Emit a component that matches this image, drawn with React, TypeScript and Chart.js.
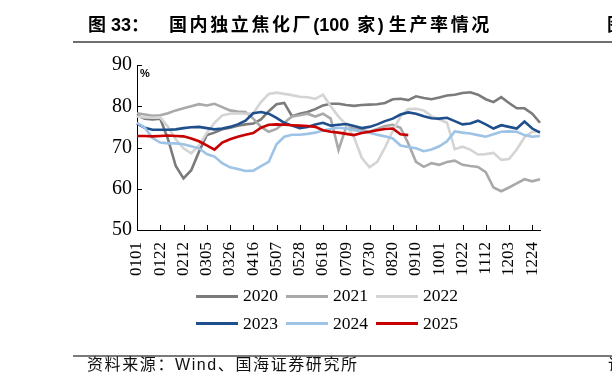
import React, { useEffect, useRef } from 'react';
import { Chart, registerables } from 'chart.js';

Chart.register(...registerables);

const dates = [
  '0101','0108','0115','0122','0129','0205','0212','0219','0226','0305','0312','0319','0326','0402','0409','0416','0423','0430',
  '0507','0514','0521','0528','0604','0611','0618','0625','0702','0709','0716','0723','0730','0806','0813','0820','0827','0903',
  '0910','0917','0924','1001','1008','1015','1022','1029','1105','1112','1119','1126','1203','1210','1217','1224','1231',
];

const tickLabels = ['0101','0122','0212','0305','0326','0416','0507','0528','0618','0709','0730','0820','0910','1001','1022','1112','1203','1224'];

const yTicks = [50, 60, 70, 80, 90];

const s2020 = [
  77.8,77.0,76.8,77.0,72.0,65.5,62.5,64.5,69.0,73.0,73.6,74.4,74.8,75.3,75.6,75.8,76.8,78.8,
  80.5,80.8,77.6,78.2,78.6,79.3,80.2,80.6,80.6,80.3,80.1,80.3,80.4,80.5,80.8,81.7,81.8,81.5,
  82.4,82.0,81.7,82.1,82.6,82.8,83.2,83.4,82.8,81.7,81.0,82.2,80.8,79.5,79.5,78.2,76.0,
];
const s2021 = [
  78.3,78.0,77.7,77.8,78.3,79.0,79.5,80.0,80.5,80.2,80.6,79.8,79.0,78.7,78.6,77.0,75.0,73.8,
  74.5,76.0,77.5,77.8,78.2,77.5,78.2,77.0,69.4,75.0,74.6,74.3,73.8,74.5,75.2,75.5,74.8,71.0,
  66.5,65.3,66.2,65.8,66.5,66.8,65.8,65.5,65.3,64.0,60.3,59.4,60.3,61.3,62.3,61.8,62.3,
];
const s2022 = [
  77.5,77.3,77.2,77.3,75.0,72.0,69.8,68.6,70.5,73.5,76.0,77.8,78.2,78.3,78.2,78.3,81.0,83.0,
  83.3,83.0,82.7,82.3,82.2,81.8,82.8,80.0,77.5,75.5,72.5,67.5,65.2,66.5,70.0,74.0,77.5,79.3,
  79.4,79.0,77.6,76.8,76.0,69.6,70.2,69.5,68.3,68.4,68.7,67.0,67.2,69.5,72.5,73.8,74.0,
];
const s2023 = [
  75.8,74.8,74.3,74.3,74.3,74.4,74.7,74.9,75.0,74.7,74.4,74.6,75.0,75.6,76.5,78.3,78.6,78.2,
  77.2,76.0,75.3,74.7,75.0,75.6,76.0,75.3,75.5,75.7,75.2,74.7,75.0,75.6,76.4,77.0,78.0,78.5,
  78.2,77.6,77.1,77.0,77.2,76.4,75.6,75.8,76.5,75.6,74.6,75.4,75.0,74.6,76.3,74.6,73.6,
];
const s2024 = [
  76.0,74.8,72.3,71.2,71.0,71.0,70.8,70.3,69.8,68.4,67.8,66.2,65.2,64.8,64.3,64.4,65.5,66.5,
  70.8,72.6,73.1,73.1,73.3,73.6,74.1,74.5,74.8,74.6,74.2,73.9,73.6,73.1,72.7,72.2,70.5,70.1,
  69.8,69.1,69.5,70.3,71.5,73.9,73.6,73.4,73.0,72.6,73.2,73.8,73.9,73.8,73.0,72.6,72.8,
];
const s2025 = [
  72.8,72.8,72.7,72.8,72.9,72.8,72.7,72.2,71.5,70.5,69.5,71.2,72.0,72.6,73.1,73.5,74.8,75.5,
  75.6,75.5,75.4,75.3,75.2,75.0,74.2,73.8,73.6,73.3,73.0,73.5,73.8,74.2,74.5,74.6,73.2,73.0,
];

const seriesNames = ['2020', '2021', '2022', '2023', '2024', '2025'];
const seriesData = [s2020, s2021, s2022, s2023, s2024, s2025];
const seriesColors = ['#7b7b7b', '#a9a9a9', '#d4d4d4', '#1f4e8c', '#9dc3e6', '#c80000'];

const serif = '"Liberation Serif", "DejaVu Serif", serif';
const cjkSans = '"Liberation Sans", "Noto Sans CJK SC", sans-serif';

const innerTicks = {
  id: 'innerTicks',
  afterDraw(chart: any) {
    const { ctx, scales } = chart;
    const x = scales.x;
    const y = scales.y;
    ctx.save();
    ctx.strokeStyle = '#000';
    ctx.lineWidth = 1;
    ctx.beginPath();
    tickLabels.forEach((lab) => {
      const idx = dates.indexOf(lab);
      if (idx <= 0) return;
      const px = Math.round(x.getPixelForValue(idx)) + 0.5;
      ctx.moveTo(px, y.bottom);
      ctx.lineTo(px, y.bottom - 5);
    });
    yTicks.forEach((v) => {
      if (v === 50) return;
      const py = Math.round(y.getPixelForValue(v)) + 0.5;
      ctx.moveTo(x.left, py);
      ctx.lineTo(x.left + 5, py);
    });
    ctx.stroke();
    ctx.restore();
  },
};

function abs(left: number, top: number, extra: any = {}) {
  return { position: 'absolute' as const, left, top, whiteSpace: 'nowrap' as const, lineHeight: 1, ...extra };
}

export default function App() {
  const ref = useRef<HTMLCanvasElement | null>(null);

  useEffect(() => {
    if (!ref.current) return;
    const chart = new Chart(ref.current, {
      type: 'line',
      data: {
        labels: dates,
        datasets: seriesNames.map((name, i) => ({
          label: name,
          data: seriesData[i],
          borderColor: seriesColors[i],
          backgroundColor: seriesColors[i],
          borderWidth: 2.6,
          pointRadius: 0,
          tension: 0,
          fill: false,
          order: 6 - i,
        })),
      },
      options: {
        responsive: false,
        animation: false,
        layout: { padding: { left: 80, top: 65, right: 72, bottom: 110 } },
        plugins: { legend: { display: false }, tooltip: { enabled: false } },
        scales: {
          x: {
            type: 'category',
            offset: false,
            grid: { display: false, drawTicks: false },
            border: { display: true, color: '#000', width: 1 },
            ticks: {
              autoSkip: false,
              maxRotation: 90,
              minRotation: 90,
              padding: 12,
              color: '#000',
              font: { family: serif, size: 17 },
              callback: (_v: any, idx: number) => (tickLabels.includes(dates[idx]) ? dates[idx] : ''),
            },
            afterFit: (s: any) => {
              s.height = 50;
              s.paddingLeft = 0;
              s.paddingRight = 0;
            },
          },
          y: {
            min: 50,
            max: 90,
            grid: { display: false, drawTicks: false },
            border: { display: true, color: '#000', width: 1 },
            afterBuildTicks: (s: any) => {
              s.ticks = yTicks.map((v) => ({ value: v }));
            },
            ticks: {
              padding: 5,
              color: '#000',
              font: { family: serif, size: 20 },
            },
            afterFit: (s: any) => {
              s.width = 57;
              s.paddingTop = 0;
              s.paddingBottom = 0;
            },
          },
        },
      },
      plugins: [innerTicks],
    } as any);
    return () => chart.destroy();
  }, []);

  const legendCols = [196, 286, 376];
  const legendRows = [296, 323.5];
  const cjkSpace = { letterSpacing: 2.6 };

  return (
    <div style={{ position: 'absolute', left: 0, top: 0, width: 612, height: 390, overflow: 'hidden', background: '#fff' }}>
      <canvas ref={ref} width={612} height={390} style={{ position: 'absolute', left: 0, top: 0, width: 612, height: 390 }} />
      <div style={abs(88, 16, { fontFamily: cjkSans, fontWeight: 700, fontSize: 18 })}>图 33：</div>
      <div style={abs(169, 16, { fontFamily: cjkSans, fontWeight: 700, fontSize: 18 })}>
        <span style={cjkSpace}>国内独立焦化厂</span>
        <span style={{ marginRight: 8 }}>(100</span>
        <span style={cjkSpace}>家</span>
        <span style={{ marginRight: 5 }}>)</span>
        <span style={cjkSpace}>生产率情况</span>
      </div>
      <div style={abs(607, 16, { fontFamily: cjkSans, fontWeight: 700, fontSize: 18 })}>图</div>
      <div style={{ position: 'absolute', left: 73, top: 41, width: 539, height: 2, background: '#6e6e6e' }} />
      <div style={abs(140, 68, { fontFamily: cjkSans, fontWeight: 700, fontSize: 11 })}>%</div>
      {seriesNames.map((name, i) => {
        const cx = legendCols[i % 3];
        const cy = legendRows[Math.floor(i / 3)];
        return (
          <React.Fragment key={name}>
            <div style={{ position: 'absolute', left: cx, top: cy - 1.5, width: 42, height: 3, background: seriesColors[i] }} />
            <div style={abs(cx + 47, cy - 9, { fontFamily: serif, fontSize: 17.5 })}>{name}</div>
          </React.Fragment>
        );
      })}
      <div style={{ position: 'absolute', left: 73, top: 355, width: 539, height: 1.5, background: '#7a7a7a' }} />
      <div style={abs(87, 357, { fontFamily: cjkSans, fontSize: 16, letterSpacing: 1.6, color: '#111' })}>资料来源：Wind、国海证券研究所</div>
      <div style={abs(608, 357, { fontFamily: cjkSans, fontSize: 16, color: '#111' })}>请</div>
    </div>
  );
}
